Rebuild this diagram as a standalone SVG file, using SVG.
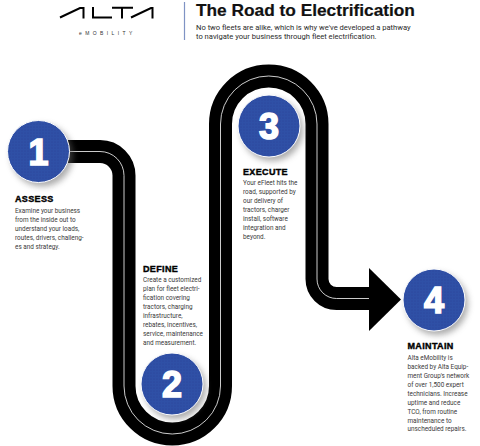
<svg xmlns="http://www.w3.org/2000/svg" width="480" height="446" viewBox="0 0 480 446">
<style>
.t{font-family:"Liberation Sans",Arial,sans-serif}
.h{font-family:"Liberation Sans",Arial,sans-serif;font-weight:700;font-size:9px;letter-spacing:.35px;fill:#000;stroke:#000;stroke-width:.4px}
.b{font-family:"Roboto","Liberation Sans",sans-serif;font-size:6.380px;fill:#3a3a3a}
.s{font-family:"Roboto","Liberation Sans",sans-serif;font-size:7.600px;fill:#2a2a2a}
.n{font-family:"Liberation Sans",Arial,sans-serif;font-weight:700;font-size:36px;fill:#fff;stroke:#fff;stroke-width:1.600px;text-anchor:middle}
.road{fill:none;stroke:#000;stroke-width:23}
.line{fill:none;stroke:#fff;stroke-width:.8}
.disc{fill:url(#dots);stroke:#fff;stroke-width:1}
.sh{fill:#666;opacity:.55;filter:url(#blur)}
</style>
<defs>
<pattern id="dots" width="3" height="3" patternUnits="userSpaceOnUse">
<rect width="3" height="3" fill="#2f50a6"/>
<circle cx="1" cy="1" r=".6" fill="#2a3f96"/>
</pattern>
<filter id="blur" x="-30%" y="-30%" width="160%" height="160%"><feGaussianBlur stdDeviation="3"/></filter>
</defs>
<rect width="480" height="446" fill="#fff"/>
<g id="connectors">
<path class="road" d="M60 151.500H100A24 24 0 0 1 124 175.500V386A48.250 48 0 0 0 220.500 386V124A48.250 48 0 0 1 317 124V279A19.500 19.500 0 0 0 336.500 298.500H372"/>
<path class="line" d="M68 151.500H100A24 24 0 0 1 124 175.500V386A48.250 48 0 0 0 220.500 386V124A48.250 48 0 0 1 317 124V279A19.500 19.500 0 0 0 336.500 298.500H369"/>
<polygon points="369,268 401,299.500 369,331" fill="#000"/>
</g>
<g id="logo">
<path d="M60 17.500L80 8H83.500V18.500M93 7V17.500H112M112 7.800H133M122 8V18.500M131 17.500L151 8H152.500V18.500" fill="none" stroke="#000" stroke-width="2"/>
<text class="t" x="79" y="34.500" font-size="5px" letter-spacing="3.400" fill="#333">eMOBILITY</text>
</g>
<g id="header">
<line x1="184.500" y1="2" x2="184.500" y2="40" stroke="#7f93c4" stroke-width="1.200"/>
<text class="t" x="196" y="15.500" font-size="17.300px" font-weight="700" fill="#111" stroke="#111" stroke-width=".2">The Road to Electrification</text>
<text class="s" x="196" y="29.500">No two fleets are alike, which is why we've developed a pathway</text>
<text class="s" x="196" y="38.500">to navigate your business through fleet electrification.</text>
</g>
<g id="node1">
<circle class="sh" cx="42" cy="155.500" r="31"/>
<circle class="disc" cx="38.500" cy="151.500" r="31"/>
<text class="n" x="38.500" y="164.500">1</text>
<text class="h" x="15" y="202">ASSESS</text>
<text class="b"><tspan x="15" y="213">Examine your business</tspan><tspan x="15" y="222">from the inside out to</tspan><tspan x="15" y="231">understand your loads,</tspan><tspan x="15" y="240">routes, drivers, challeng-</tspan><tspan x="15" y="249">es and strategy.</tspan></text>
</g>
<g id="node2">
<circle class="sh" cx="175" cy="388" r="31"/>
<circle class="disc" cx="172" cy="384" r="31"/>
<text class="n" x="172" y="397">2</text>
<text class="h" x="143" y="272">DEFINE</text>
<text class="b"><tspan x="143" y="282">Create a customized</tspan><tspan x="143" y="291">plan for fleet electri-</tspan><tspan x="143" y="300">fication covering</tspan><tspan x="143" y="309">tractors, charging</tspan><tspan x="143" y="318">infrastructure,</tspan><tspan x="143" y="327">rebates, incentives,</tspan><tspan x="143" y="336">service, maintenance</tspan><tspan x="143" y="345">and measurement.</tspan></text>
</g>
<g id="node3">
<circle class="sh" cx="272" cy="130" r="31"/>
<circle class="disc" cx="269" cy="126" r="31"/>
<text class="n" x="269" y="139">3</text>
<text class="h" x="243" y="175">EXECUTE</text>
<text class="b"><tspan x="243" y="185">Your eFleet hits the</tspan><tspan x="243" y="194">road, supported by</tspan><tspan x="243" y="203">our delivery of</tspan><tspan x="243" y="212">tractors, charger</tspan><tspan x="243" y="221">install, software</tspan><tspan x="243" y="230">integration and</tspan><tspan x="243" y="239">beyond.</tspan></text>
</g>
<g id="node4">
<circle class="sh" cx="437" cy="304" r="31"/>
<circle class="disc" cx="434" cy="300" r="31"/>
<text class="n" x="434" y="313">4</text>
<text class="h" x="407.500" y="349">MAINTAIN</text>
<text class="b"><tspan x="407.500" y="359.500">Alta eMobility is</tspan><tspan x="407.500" y="368.500">backed by Alta Equip-</tspan><tspan x="407.500" y="377.500">ment Group's network</tspan><tspan x="407.500" y="386.500">of over 1,500 expert</tspan><tspan x="407.500" y="395.500">technicians. Increase</tspan><tspan x="407.500" y="404.500">uptime and reduce</tspan><tspan x="407.500" y="413.500">TCO, from routine</tspan><tspan x="407.500" y="422.500">maintenance to</tspan><tspan x="407.500" y="431">unscheduled repairs.</tspan></text>
</g>
</svg>
